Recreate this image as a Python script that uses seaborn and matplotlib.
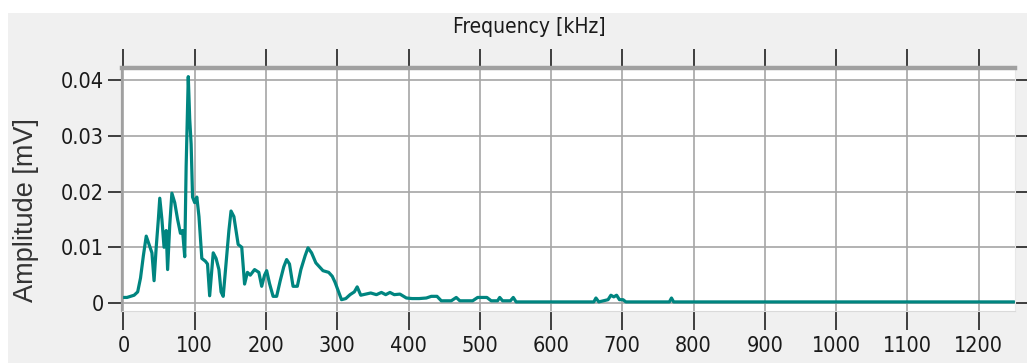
import matplotlib
matplotlib.use("Agg")
import matplotlib.pyplot as plt
from matplotlib import font_manager
import seaborn as sns
import pandas as pd
from matplotlib.patches import Rectangle

# ---- data ----
freq_khz = [0, 5, 10, 15, 20, 24, 28, 32, 36, 40, 43, 46, 49, 51, 54, 57, 60, 62,
            65, 68, 72, 76, 80, 83, 86, 88, 91, 93, 95, 97, 100, 103, 106, 110,
            115, 118, 121, 124, 126, 130, 134, 137, 140, 144, 148, 151, 155, 158,
            161, 166, 170, 174, 178, 184, 190, 194, 198, 201, 205, 210, 215, 220,
            225, 229, 233, 238, 244, 249, 255, 259, 264, 270, 275, 280, 288, 293,
            297, 302, 306, 312, 318, 324, 328, 333, 340, 347, 355, 362, 368, 374,
            380, 388, 397, 405, 415, 425, 432, 440, 446, 460, 467, 472, 490, 497,
            510, 516, 525, 528, 532, 543, 547, 551, 600, 660, 663, 667, 680, 684,
            688, 692, 696, 701, 705, 766, 769, 772, 900, 1100, 1250]
amplitude_mv = [0.0010, 0.0010, 0.0012, 0.0014, 0.0020, 0.0045, 0.0085, 0.0120,
                0.0105, 0.0090, 0.0040, 0.0100, 0.0150, 0.0188, 0.0150, 0.0100,
                0.0130, 0.0060, 0.0140, 0.0197, 0.0180, 0.0150, 0.0125, 0.0130,
                0.0083, 0.0245, 0.0406, 0.0330, 0.0285, 0.0190, 0.0180, 0.0190,
                0.0155, 0.0080, 0.0075, 0.0070, 0.0013, 0.0060, 0.0090, 0.0080,
                0.0060, 0.0020, 0.0012, 0.0070, 0.0130, 0.0165, 0.0155, 0.0130,
                0.0105, 0.0100, 0.0034, 0.0055, 0.0050, 0.0060, 0.0055, 0.0030,
                0.0050, 0.0058, 0.0035, 0.0012, 0.0012, 0.0040, 0.0065, 0.0078,
                0.0070, 0.0030, 0.0030, 0.0060, 0.0085, 0.0099, 0.0090, 0.0072,
                0.0065, 0.0058, 0.0055, 0.0048, 0.0037, 0.0020, 0.0006, 0.0008,
                0.0015, 0.0020, 0.0029, 0.0014, 0.0016, 0.0018, 0.0015, 0.0019,
                0.0015, 0.0019, 0.0015, 0.0016, 0.0009, 0.0008, 0.0008, 0.0009,
                0.0012, 0.0012, 0.0004, 0.0004, 0.0010, 0.0004, 0.0004, 0.0010,
                0.0010, 0.0004, 0.0004, 0.0010, 0.0004, 0.0004, 0.0010, 0.0002,
                0.0002, 0.0002, 0.0009, 0.0002, 0.0006, 0.0014, 0.0011, 0.0014,
                0.0006, 0.0006, 0.0002, 0.0002, 0.0009, 0.0002, 0.0002, 0.0002,
                0.0002]
x_ticks = [0, 100, 200, 300, 400, 500, 600, 700, 800, 900, 1000, 1100, 1200]
y_ticks = [0, 0.01, 0.02, 0.03, 0.04]
y_tick_labels = ["0", "0.01", "0.02", "0.03", "0.04"]

df = pd.DataFrame({"freq": freq_khz, "amp": amplitude_mv})

sns.set_theme(style="white")

# pick a narrow font if one is installed
entries = font_manager.fontManager.ttflist
names = {f.name for f in entries}
narrow_kw = {}
if "Liberation Sans Narrow" in names:
    narrow_kw = dict(family=["Liberation Sans Narrow", "DejaVu Sans"])
    tick_size = 17
elif any(f.name == "DejaVu Sans" and str(f.stretch) in ("condensed", "semi-condensed", "600", "700") and f.weight in ("normal", 400)
         for f in entries):
    narrow_kw = dict(family=["DejaVu Sans"], stretch="condensed")
    tick_size = 15.5
else:
    narrow_kw = dict(family=["Liberation Sans", "DejaVu Sans"])
    tick_size = 15.5
plt.rcParams["font.family"] = narrow_kw["family"]
if "stretch" in narrow_kw:
    plt.rcParams["font.stretch"] = narrow_kw["stretch"]

W, H = 1027, 363
fig = plt.figure(figsize=(W / 100, H / 100), dpi=100, facecolor="white")
fig.patches.append(Rectangle((8 / W, 0), 1 - 8 / W, (H - 13) / H,
                             transform=fig.transFigure, facecolor="#F0F0F0",
                             edgecolor="none", zorder=-10))

ax = fig.add_axes([122 / W, 52 / H, (1015 - 122) / W, (311 - 68) / H])
ax.set_facecolor("white")

sns.lineplot(data=df, x="freq", y="amp", ax=ax, color="#008580",
             linewidth=2.3, estimator=None, sort=False)

ax.set_xlim(-2, 1251)
ax.set_ylim(-0.00143, 0.04215)
ax.set_xticks(x_ticks)
ax.set_xticklabels([str(t) for t in x_ticks])
ax.set_yticks(y_ticks)
ax.set_yticklabels(y_tick_labels)
ax.set_xlabel("")
ax.set_ylabel("")

ax.grid(True, color="#A6A6A6", linewidth=1.2)
ax.set_axisbelow(True)

ax.spines["left"].set_color("#A0A0A0")
ax.spines["left"].set_linewidth(1.6)
ax.spines["top"].set_color("#A0A0A0")
ax.spines["top"].set_linewidth(3.2)
ax.spines["bottom"].set_color("#DADADA")
ax.spines["bottom"].set_linewidth(0.8)
ax.spines["right"].set_color("#E8E8E8")
ax.spines["right"].set_linewidth(0.8)

ax.tick_params(axis="x", which="both", bottom=True, top=True, labelbottom=True,
               labeltop=False, direction="out", length=14, width=1.2,
               color="#202020", pad=4, labelsize=tick_size, labelcolor="#1A1A1A")
ax.tick_params(axis="y", which="both", left=True, right=True, labelleft=True,
               labelright=False, direction="out", length=10, width=1.2,
               color="#202020", pad=3, labelsize=tick_size, labelcolor="#1A1A1A")

fig.text(529 / W, 1 - 27 / H, "Frequency [kHz]", ha="center", va="center",
         fontsize=tick_size - 0.5, color="#1A1A1A")
fig.text(26 / W, 1 - 210 / H, "Amplitude [mV]", ha="center", va="center",
         rotation=90, fontsize=19.5, color="#333333",
         family=["Liberation Sans", "DejaVu Sans"], stretch="normal")

fig.savefig("out.png", dpi=100, facecolor=fig.get_facecolor())
